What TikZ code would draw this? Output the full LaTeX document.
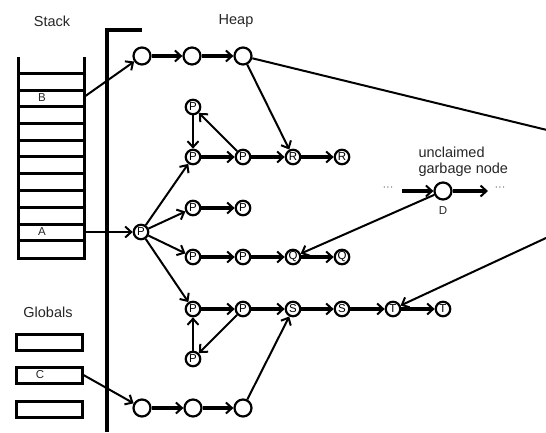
\documentclass[tikz,border=0pt]{standalone}
\usepackage{fontspec}
\setmainfont{Liberation Sans}
\usetikzlibrary{arrows.meta}
\tikzset{
  arr/.style={-{Straight Barb[length=6pt,width=11pt,line width=2pt]}},
  thk/.style={line width=3.2pt},
  thn/.style={line width=2pt},
  blank/.style={circle,draw,line width=2.2pt,inner sep=0pt,minimum size=17pt},
  lett/.style={circle,draw,line width=2.2pt,inner sep=0pt,minimum size=14.5pt,font=\fontsize{11.5}{11}\selectfont},
  lbl/.style={font=\fontsize{14.5}{16}\selectfont,text=black!85},
  cell/.style={font=\fontsize{11.5}{12}\selectfont,text=black!85},
  gbox/.style={draw,line width=3pt,minimum width=66pt,minimum height=16pt,inner sep=0pt},
}
\begin{document}
\begin{tikzpicture}[x=1pt,y=-1pt]
\useasboundingbox (0,0) rectangle (546,432);
% titles
\node[lbl] (stacklbl) at (52,21) {Stack};
\node[lbl] (heaplbl) at (236,21) {Heap};
\node[lbl] (globlbl) at (48,312) {Globals};
% stack ladder
\draw[line width=3pt] (18,57) -- (18,258) -- (84,258) -- (84,57);
\foreach \y in {73,90,106,123,140,156,173,190,207,224,240}
  \draw[line width=3pt] (18,\y) -- (84,\y);
\node[cell] (B) at (42,98) {B};
\node[cell] (A) at (42,232) {A};
\coordinate (Bs) at (84,97);
\coordinate (As) at (84,232);
% globals
\node[gbox] (g1) at (49,342) {};
\node[gbox] (g2) at (49,375) {};
\node[gbox] (g3) at (49,409) {};
\node[cell] (C) at (40,375) {C};
% heap boundary
\draw[line width=3.5pt] (142,30) -- (107,30) -- (107,432);
% top row
\node[blank] (c1) at (142,56) {};
\node[blank] (c2) at (192,56) {};
\node[blank] (c3) at (243,56) {};
% bottom row
\node[blank] (b1) at (142,408) {};
\node[blank] (b2) at (193,408) {};
\node[blank] (b3) at (243,408) {};
% lettered nodes
\node[lett] (pt) at (193,107) {P};
\node[lett] (p1) at (193,157) {P};
\node[lett] (p2) at (243,157) {P};
\node[lett] (r1) at (293,157) {R};
\node[lett] (r2) at (342,157) {R};
\node[lett] (root) at (141,232) {P};
\node[lett] (p3) at (193,208) {P};
\node[lett] (p4) at (243,208) {P};
\node[lett] (p5) at (193,257) {P};
\node[lett] (p6) at (243,257) {P};
\node[lett] (q1) at (293,257) {Q};
\node[lett] (q2) at (342,257) {Q};
\node[lett] (p7) at (193,309) {P};
\node[lett] (p8) at (243,309) {P};
\node[lett] (s1) at (293,309) {S};
\node[lett] (s2) at (342,309) {S};
\node[lett] (t1) at (393,309) {T};
\node[lett] (t2) at (443,309) {T};
\node[lett] (pb) at (193,359) {P};
% garbage node
\node[blank] (D) at (443,191) {};
\node[cell] (Dl) at (443,211) {D};
\node[lbl,align=left,anchor=west] (gtext) at (415,162) {unclaimed\\garbage node};
\node[font=\fontsize{11}{11}\selectfont,text=black!60] (dl) at (388,189) {···};
\node[font=\fontsize{11}{11}\selectfont,text=black!60] (dr) at (500,189) {···};
\coordinate (Din) at (402,191);
\coordinate (Dout) at (488,191);
% connectors: roots
\draw[thn,arr] (Bs) -- (c1);
\draw[thn,arr] (As) -- (root);
\draw[thn,arr] (g2.east) -- (b1);
% top row
\draw[thk,arr] (c1) -- (c2);
\draw[thk,arr] (c2) -- (c3);
\draw[thn,arr] (c3) -- (r1);
% bottom row
\draw[thk,arr] (b1) -- (b2);
\draw[thk,arr] (b2) -- (b3);
\draw[thn,arr] (b3) -- (s1);
% P cluster
\draw[thn,arr] (pt) -- (p1);
\draw[thn,arr] (p2) -- (pt);
\draw[thk,arr] (p1) -- (p2);
\draw[thk,arr] (p2) -- (r1);
\draw[thk,arr] (r1) -- (r2);
\draw[thn,arr] (root) -- (p1);
\draw[thn,arr] (root) -- (p3);
\draw[thn,arr] (root) -- (p5);
\draw[thn,arr] (root) -- (p7);
\draw[thk,arr] (p3) -- (p4);
\draw[thk,arr] (p5) -- (p6);
\draw[thk,arr] (p6) -- (q1);
\draw[thk,arr] (q1) -- (q2);
\draw[thk,arr] (p7) -- (p8);
\draw[thk,arr] (p8) -- (s1);
\draw[thk,arr] (s1) -- (s2);
\draw[thk,arr] (s2) -- (t1);
\draw[thk,arr] (t1) -- (t2);
\draw[thn,arr] (p8) -- (pb);
\draw[thn,arr] (pb) -- (p7);
% garbage
\draw[thk,arr] (Din) -- (D);
\draw[thk,arr] (D) -- (Dout);
\draw[thn,arr] (D) -- (q1);
% long path leaving the picture
\begin{scope}
\clip (0,0) rectangle (546,432);
\coordinate (far) at (699,167);
\draw[thn] (c3) -- (far);
\draw[thn,arr] (far) -- (t1);
\end{scope}
\end{tikzpicture}
\end{document}
